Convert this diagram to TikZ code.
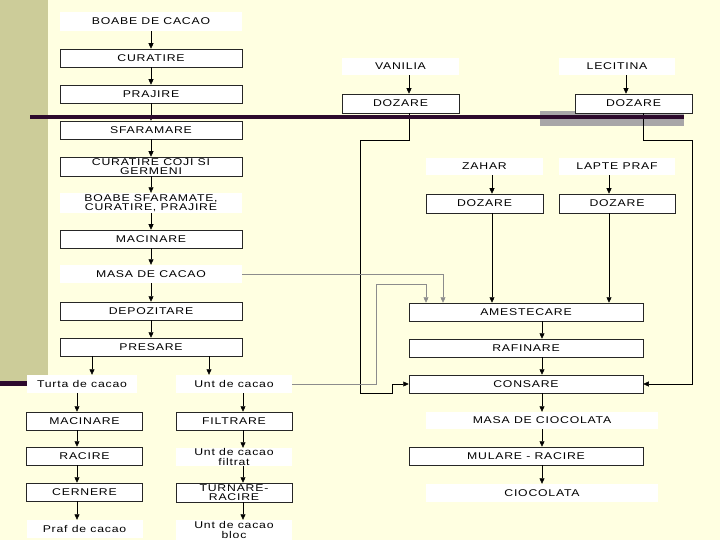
\documentclass[tikz,border=0pt]{standalone}
\usepackage{fontspec}
\setmainfont{Liberation Sans}[FakeStretch=1.25,LetterSpace=8]
\usetikzlibrary{arrows.meta,calc}
\definecolor{bg}{RGB}{255,255,225}
\definecolor{khaki}{RGB}{204,204,153}
\definecolor{darkpurple}{RGB}{45,10,45}
\definecolor{barGray}{RGB}{168,166,168}
\begin{document}
\begin{tikzpicture}[x=1pt,y=-1pt,
  every node/.style={font=\fontsize{9.8}{9.5}\selectfont, inner sep=0pt, align=center},
  proc/.style={draw=black!85, line width=0.5pt, fill=white},
  lbl/.style={fill=white},
  arr/.style={draw=black, line width=0.6pt, -{Triangle[width=5pt,length=5.5pt]}},
  garr/.style={draw=black!45, line width=0.6pt, -{Triangle[width=5pt,length=5.5pt]}},
  wide/.style={minimum width=182pt},
  sub/.style={minimum width=116pt},
  main/.style={minimum width=234pt}]
\useasboundingbox (0,0) rectangle (720,540);
\fill[bg] (0,0) rectangle (720,540);
\fill[khaki] (0,0) rectangle (48,381);
\fill[darkpurple] (0,381) rectangle (30,386);
\fill[barGray] (540,111) rectangle (684,126);

% left main column
\node[lbl,wide,minimum height=19pt]  (n1)  at (151,21.5) {BOABE DE CACAO};
\node[proc,wide,minimum height=18pt] (n2)  at (151,58)   {CURATIRE};
\node[proc,wide,minimum height=18pt] (n3)  at (151,94)   {PRAJIRE};
\node[proc,wide,minimum height=18pt] (n4)  at (151,130)  {SFARAMARE};
\node[proc,wide,minimum height=19pt] (n5)  at (151,166.5) {CURATIRE COJI SI\\GERMENI};
\node[lbl,wide,minimum height=20pt]  (n6)  at (151,203)  {BOABE SFARAMATE,\\CURATIRE, PRAJIRE};
\node[proc,wide,minimum height=18pt] (n7)  at (151,239)  {MACINARE};
\node[lbl,wide,minimum height=18pt]  (n8)  at (151,274)  {MASA DE CACAO};
\node[proc,wide,minimum height=18pt] (n9)  at (151,311)  {DEPOZITARE};
\node[proc,wide,minimum height=18pt] (n10) at (151,347)  {PRESARE};

% left sub column
\node[lbl,minimum width=110pt,minimum height=18pt] (t1) at (82,384) {Turta de cacao};
\node[proc,sub,minimum height=18pt] (t2) at (84.5,421) {MACINARE};
\node[proc,sub,minimum height=18pt] (t3) at (84.5,456) {RACIRE};
\node[proc,sub,minimum height=18pt] (t4) at (84.5,492) {CERNERE};
\node[lbl,sub,minimum height=18pt]  (t5) at (84.5,529) {Praf de cacao};

% right sub column
\node[lbl,sub,minimum height=18pt]  (u1) at (234,384) {Unt de cacao};
\node[proc,sub,minimum height=18pt] (u2) at (234,421) {FILTRARE};
\node[lbl,sub,minimum height=18pt]  (u3) at (234,457) {Unt de cacao\\filtrat};
\node[proc,sub,minimum height=19pt] (u4) at (234,492.5) {TURNARE-\\RACIRE};
\node[lbl,sub,minimum height=20pt]  (u5) at (234,530) {Unt de cacao\\bloc};

% right main column
\node[proc,main,minimum height=18pt] (a1) at (526,312) {AMESTECARE};
\node[proc,main,minimum height=18pt] (a2) at (526,348) {RAFINARE};
\node[proc,main,minimum height=18pt] (a3) at (526,384) {CONSARE};
\node[lbl,minimum width=232pt,minimum height=17pt] (a4) at (542,420.5) {MASA DE CIOCOLATA};
\node[proc,main,minimum height=18pt] (a5) at (526,456) {MULARE - RACIRE};
\node[lbl,minimum width=232pt,minimum height=18pt] (a6) at (542,493) {CIOCOLATA};

% top right
\node[lbl,minimum width=117pt,minimum height=17pt]  (v1) at (400.5,66.5) {VANILIA};
\node[proc,minimum width=117pt,minimum height=19pt] (v2) at (400.5,103.5) {DOZARE};
\node[lbl,minimum width=116pt,minimum height=17pt]  (l1) at (617,66.5) {LECITINA};
\node[proc,minimum width=117pt,minimum height=19pt] (l2) at (633.5,103.5) {DOZARE};
\node[lbl,minimum width=117pt,minimum height=17pt]  (z1) at (484.5,166.5) {ZAHAR};
\node[proc,minimum width=117pt,minimum height=19pt] (z2) at (484.5,203.5) {DOZARE};
\node[lbl,minimum width=116pt,minimum height=17pt]  (p1) at (617,166.5) {LAPTE PRAF};
\node[proc,minimum width=116pt,minimum height=19pt] (p2) at (617,203.5) {DOZARE};

% left main column arrows
\foreach \a/\b in {n1/n2,n2/n3,n3/n4,n4/n5,n5/n6,n6/n7,n7/n8,n8/n9,n9/n10}
  \draw[arr] (\a.south) -- (\b.north);
\coordinate (pl) at ([xshift=-59pt]n10.south);
\coordinate (pr) at ([xshift=58pt]n10.south);
\draw[arr] (pl) -- (pl |- t1.north);
\draw[arr] (pr) -- (pr |- u1.north);
\coordinate (tx) at ([xshift=-7.5pt]t2.center);
\foreach \a/\b in {t1/t2,t2/t3,t3/t4,t4/t5}
  \draw[arr] (\a.south -| tx) -- (\b.north -| tx);
\coordinate (ux) at ([xshift=9pt]u2.center);
\foreach \a/\b in {u1/u2,u2/u3,u3/u4,u4/u5}
  \draw[arr] (\a.south -| ux) -- (\b.north -| ux);

% right main column arrows
\foreach \a/\b in {a1/a2,a2/a3,a3/a4,a4/a5,a5/a6}
  \draw[arr] (\a.south -| a4.center) -- (\b.north -| a4.center);

% top right arrows
\draw[arr] ([xshift=8.5pt]v1.south) -- ([xshift=8.5pt]v2.north);
\draw[arr] ([xshift=9pt]l1.south) -- ([xshift=-7.5pt]l2.north);
\draw[arr] ([xshift=7.5pt]z1.south) -- ([xshift=7.5pt]z2.north);
\draw[arr] ([xshift=-8pt]p1.south) -- ([xshift=-8pt]p2.north);

\coordinate (zx) at ([xshift=7.5pt]z2.south);
\coordinate (px) at ([xshift=-8pt]p2.south);
\draw[arr] (zx) -- (zx |- a1.north);
\draw[arr] (px) -- (px |- a1.north);

% side feeds into CONSARE
\draw[arr, line width=0.5pt] ([xshift=8.5pt]v2.south) |- (360,140) -- (360,393) -| (392,384) -- (a3.west);
\draw[arr, line width=0.5pt] ([xshift=9.5pt]l2.south) |- (692,140) |- (a3.east);

% masa de cacao and unt de cacao into AMESTECARE
\draw[garr] (n8.east) -| ([xshift=-83pt]a1.north);
\draw[garr] (u1.east) -- (376,384) |- (426,284) -- ([xshift=-100pt]a1.north);

% dark horizontal line
\draw[darkpurple, line width=3.5pt] (30,117) -- (684,117);
\end{tikzpicture}
\end{document}
